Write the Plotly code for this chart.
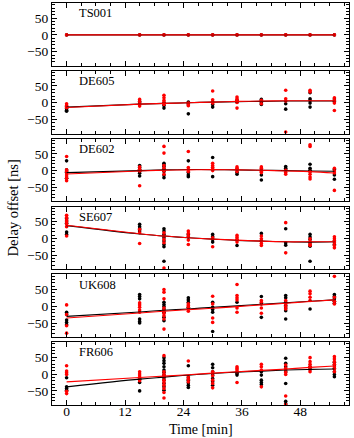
import plotly.graph_objs as go
from plotly.subplots import make_subplots

# observation times [min]
times = [0, 15, 20, 25, 30, 35, 40, 45, 50, 55]
stations = ["TS001", "DE605", "DE602", "SE607", "UK608", "FR606"]

# delay offsets [ns] per time (one list per time), black and red sets
ts001_black = [[0] for _ in times]
ts001_red = [[0] for _ in times]
ts001_fit_black = [0, 0, 0, 0, 0, 0, 0, 0, 0, 0]
ts001_fit_red = [0, 0, 0, 0, 0, 0, 0, 0, 0, 0]

de605_black = [[-12, -17, -22, -25], [4, -1], [-1, -8, -16], [2, -3, -33], [-5, -13],
               [7, 2], [10, 5, 0, -5], [-3, -19], [30, 12, 7, -1, -13], [11, 4]]
de605_red = [[-3, -8, -12, -15], [10, 3, -5, -10], [22, 15, 7, 1, -5], [-1, -6, -9],
             [35, 9, 3, -1], [17, 12, 7, 1, -16], [7, -3], [37, 12, 5, -87],
             [37, 32], [15, 7, -1, -23]]
de605_fit_black = [-13, -4, -2, 0, 2, 3, 4, 5, 5, 5]
de605_fit_red = [-14, -4, -2, 0, 2, 4, 5, 6, 6, 6]

de602_black = [[29, 2, -5, -23], [15, 9, 3, -3, -8, -16], [22, 17, 12, 5, -3, -13, -21],
               [29, -6, -13, -18], [39, -18], [-6, -11], [-13, -28], [12, 7, 2],
               [19, 7, 1, -3], [3, -13, -26]]
de602_red = [[42, 2, -3, -10, -16, -23, -30], [11, 4, -1, -45], [72, 52, 15, 7, -1, -11],
             [57, 9, 3, -3], [22, 15, 10, 5, 0], [11, 7, 3, -3], [11, 7, 2, -3, -6],
             [1, -6, -11], [77, 72, -3, -11, -19, -25], [7, -1, -7, -59]]
de602_fit_black = [-6, 0, 2, 3, 3, 2, 1, 0, -1, -2]
de602_fit_red = [-10, -1, 1, 2, 3, 2, 1, -1, -3, -7]

se607_black = [[59, 52, 45, 19, 12], [42, 35, 29, 22], [29, 22, 12, 2, -8, -18, -25, -68],
               [12, 4], [12, 5, -3, -11], [-5, -21], [15, -8], [29, -13, -20],
               [12, 4, -3, -13, -23, -68], [-8, -18]]
se607_red = [[69, 62, 55, 49, 43, 35, 7], [27, 17, -15], [17, 7, -3, -13, -88],
             [22, 15, 7, -5, -18], [2, -25], [9, 3, -3, -11], [7, -1, -8, -15, -21],
             [47, -43], [-1, -9, -17, -21], [5, -1, -7, -13, -21, -28]]
se607_fit_black = [38, 13, 7, 2, -2, -6, -8, -10, -11, -10]
se607_fit_red = [39, 14, 7, 2, -2, -5, -8, -10, -10, -10]

uk608_black = [[-18, -23, -41, -48, -55], [35, 29, 22, -38, -45, -50],
               [12, 5, -1, -8, -18, -33, -43], [25, 19, 12, -3], [12, -3, -10, -18, -75],
               [12], [29, 7, -33], [32, 25, 12, 2, -5, -13, -38], [-8], [35, 29, 22, 15, 9]]
uk608_red = [[4, -25, -58, -80], [10, 4, -3, -11, -18], [50, 42, 22, -5, -13, -21, -28, -38, -68],
             [7, 2, -3, -8, -15], [30, 7, -35, -48], [65, 32, 25, 19, -5, -18],
             [17, 12, -5, -21], [17, 7, -1, -8], [45, 37, 27, 17], [89, 27, 15, 7]]
uk608_fit_black = [-30, -17, -12, -8, -3, 1, 6, 10, 15, 19]
uk608_fit_red = [-35, -20, -15, -10, -6, -1, 4, 9, 14, 19]

fr606_black = [[-11, -38, -43, -48], [-15, -25, -50],
               [49, 40, 32, 22, 12, 5, -3, -11, -18, -28, -38, -48],
               [25, -11, -18, -26, -33, -40], [29, 19, 7, -3, -13, -23, -33], [2, -3],
               [7, -3, -18, -25, -31], [47, 32, 22, 7, -28, -81, -88], [22, 14],
               [35, 27, 17, 7, -1, -8]]
fr606_red = [[25, 9, 4, -1, -51, -58], [7, 0, -6, -13, -20],
             [55, 7, -1, -8, -18, -25, -33, -43, -55, -71], [39, -8, -15, -23],
             [7, -5, -18, -28, -41], [22, 17, 12, 7, -25], [29, 22, 12, -38],
             [27, 17, 12, 5, -1, -65, -91], [49, 37, 29, 22, 15, 7],
             [52, 45, 37, 29, 22, 15, 7]]
fr606_fit_black = [-38, -15, -9, -3, 2, 6, 9, 12, 14, 15]
fr606_fit_red = [-23, -10, -6, -2, 3, 7, 11, 15, 20, 24]

panels = [
    (ts001_black, ts001_red, ts001_fit_black, ts001_fit_red),
    (de605_black, de605_red, de605_fit_black, de605_fit_red),
    (de602_black, de602_red, de602_fit_black, de602_fit_red),
    (se607_black, se607_red, se607_fit_black, se607_fit_red),
    (uk608_black, uk608_red, uk608_fit_black, uk608_fit_red),
    (fr606_black, fr606_red, fr606_fit_black, fr606_fit_red),
]

RED = "#ff0000"
FONT = "Liberation Serif"


def flatten(groups):
    xs, ys = [], []
    for t, vals in zip(times, groups):
        for v in vals:
            xs.append(t)
            ys.append(v)
    return xs, ys


fig = make_subplots(rows=6, cols=1, shared_xaxes=True, vertical_spacing=0.0125)

for i, (blk, red, fblk, fred) in enumerate(panels, start=1):
    bx, by = flatten(blk)
    rx, ry = flatten(red)
    fig.add_trace(go.Scatter(x=bx, y=by, mode="markers",
                             marker=dict(size=3.6, color="black"), showlegend=False),
                  row=i, col=1)
    fig.add_trace(go.Scatter(x=rx, y=ry, mode="markers",
                             marker=dict(size=3.6, color=RED), showlegend=False),
                  row=i, col=1)
    fig.add_trace(go.Scatter(x=times, y=fblk, mode="lines", line_shape="spline",
                             line=dict(color="black", width=1.1), showlegend=False),
                  row=i, col=1)
    fig.add_trace(go.Scatter(x=times, y=fred, mode="lines", line_shape="spline",
                             line=dict(color=RED, width=1.1), showlegend=False),
                  row=i, col=1)
    fig.add_annotation(text=stations[i - 1], xref="x domain", yref="y domain",
                       x=0.084, y=0.98, xanchor="left", yanchor="top",
                       showarrow=False, font=dict(size=12.5, family=FONT, color="black"),
                       row=i, col=1)

tickfont = dict(family=FONT, size=13.5, color="black")
fig.update_xaxes(range=[-3, 58], tickvals=[0, 12, 24, 36, 48], ticks="inside",
                 ticklen=5, tickwidth=1, tickcolor="black", tickfont=tickfont,
                 ticklabelstandoff=-6,
                 minor=dict(dtick=3, ticks="inside", ticklen=3, tickcolor="black", showgrid=False),
                 showline=True, linecolor="black", linewidth=1, mirror="allticks",
                 showgrid=False, zeroline=False)
fig.update_yaxes(range=[-92, 95], tickvals=[-50, 0, 50], ticks="inside",
                 ticklen=5, tickwidth=1, tickcolor="black", tickfont=tickfont,
                 minor=dict(dtick=10, ticks="inside", ticklen=3, tickcolor="black", showgrid=False),
                 showline=True, linecolor="black", linewidth=1, mirror="allticks",
                 showgrid=False, zeroline=False)

fig.add_annotation(text="Delay offset [ns]", xref="paper", yref="paper",
                   x=-0.13, y=0.49, xanchor="center", yanchor="middle",
                   textangle=-90, showarrow=False,
                   font=dict(size=14.5, family=FONT, color="black"))
fig.add_annotation(text="Time [min]", xref="paper", yref="paper",
                   x=0.5, y=-0.062, xanchor="center", yanchor="middle", showarrow=False,
                   font=dict(size=14, family=FONT, color="black"))

fig.update_layout(
    width=354, height=438,
    margin=dict(l=52, r=5, t=3, b=33),
    plot_bgcolor="white", paper_bgcolor="white",
    font=dict(family=FONT, size=13, color="black"),
)

# drop the default page margin so the figure sits at the window's corner
fig.write_html("out.html", config={"displayModeBar": False},
               post_script="document.body.style.margin='0';")
